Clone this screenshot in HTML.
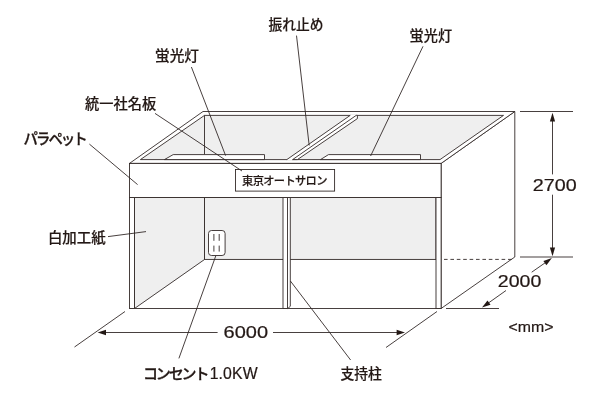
<!DOCTYPE html>
<html lang="ja">
<head>
<meta charset="utf-8">
<title>ブース図</title>
<style>
html,body{margin:0;padding:0;background:#fff;}
body{width:600px;height:400px;overflow:hidden;}
svg{display:block;will-change:transform;}
.l{stroke:#2f2624;stroke-width:.88;fill:none;}
.w{stroke:#2f2624;stroke-width:.88;fill:#fff;stroke-linejoin:miter;}
.g{stroke:#2f2624;stroke-width:.88;fill:#efefef;stroke-linejoin:miter;}
.a{fill:#231815;stroke:none;}
.jp{font-family:"Liberation Sans","Noto Sans CJK JP",sans-serif;font-weight:500;fill:#231815;stroke:#231815;stroke-width:.18;}
.k{stroke-width:.3;}
.n{font-family:"Liberation Sans",sans-serif;font-weight:400;fill:#231815;stroke:#231815;stroke-width:.2;}
</style>
</head>
<body>
<svg width="600" height="400" viewBox="0 0 600 400">
<rect x="0" y="0" width="600" height="400" fill="#fff"/>

<!-- right side wall -->
<polygon class="w" points="441.1,163.4 514.8,111.5 514.8,257 441.1,308.5"/>
<!-- top rim -->
<polygon class="w" points="129.5,163.4 203,111.5 514.8,111.5 441.1,163.4"/>
<!-- ceiling opening (inside) -->
<polygon class="g" points="140.4,159.6 204.5,115.4 503.5,115.4 440,159.6"/>
<line class="l" x1="204.5" y1="115.4" x2="204.5" y2="154.6"/>
<!-- sway brace -->
<polygon points="287.3,160.2 286.8,159.6 350.2,115.4 350.8,114.7 356,114.7 357.4,115.6 357.4,118.6 297.4,159.6 292.6,159.6 292.2,160.2" fill="#fff" stroke="none"/>
<path class="l" d="M286.8 159.6L350.2 115.4M292.6 159.6L356.2 115.4H357.4V118.6L297.4 159.6H292.6"/>
<!-- lamps -->
<polygon class="w" points="164.4,159.6 173.2,154.6 264.5,154.6 264.5,159.6"/>
<polygon class="w" points="320.5,159.6 328.5,154.6 420.5,154.6 420.5,159.6"/>

<!-- interior walls below parapet -->
<polygon class="g" points="134.5,197.5 204.5,197.5 204.5,259.5 134.5,308.5"/>
<rect class="g" x="204.5" y="197.5" width="231.5" height="61.9"/>
<!-- floor -->
<line class="l" x1="129.5" y1="308.5" x2="441.1" y2="308.5"/>
<!-- front posts -->
<rect class="w" x="129.5" y="197.5" width="5" height="111"/>
<rect class="w" x="436" y="197.5" width="5.1" height="111"/>
<!-- center post -->
<polygon class="w" points="283,197.5 290.3,197.5 290.3,306.3 287.8,308.5 283,308.5"/>
<line class="l" x1="287.5" y1="197.5" x2="287.5" y2="308.5"/>
<!-- parapet -->
<rect class="w" x="129.5" y="163.4" width="311.6" height="34.1"/>
<!-- dashed hidden line -->
<line class="l" x1="444" y1="259.4" x2="512" y2="259.4" stroke-dasharray="3.6 2.8"/>
<!-- nameplate -->
<rect class="w" x="235.5" y="169.5" width="99.1" height="21.6"/>
<text class="jp" font-size="11.6" letter-spacing="-0.66" transform="translate(242.07 185.01) scale(0.97 1)">東京オートサロン</text>
<!-- outlet -->
<rect class="w" x="208.5" y="230.5" width="16.6" height="25" rx="3" ry="3"/>
<path class="l" d="M213.9 234v6.8M219.2 234v6.8M213.9 245.6v6M219.2 245.6v6"/>

<!-- dimension 2700 -->
<line class="l" x1="520" y1="111.5" x2="573" y2="111.5"/>
<line class="l" x1="520" y1="257" x2="573" y2="257"/>
<line class="l" x1="552.5" y1="118" x2="552.5" y2="174.4"/>
<line class="l" x1="552.5" y1="194.7" x2="552.5" y2="250"/>
<polygon class="a" points="552.5,112.7 555.1,121.5 549.9,121.5"/>
<polygon class="a" points="552.5,256.3 555.1,247.6 549.9,247.6"/>
<text class="n" font-size="15.8" transform="translate(532.81 190.75) scale(1.248 1)">2700</text>

<!-- dimension 2000 -->
<line class="l" x1="446" y1="308.5" x2="499" y2="308.5"/>
<line class="l" x1="487" y1="304" x2="506" y2="290.5"/>
<line class="l" x1="531.7" y1="272.2" x2="547" y2="261.5"/>
<polygon class="a" points="482.0,307.6 490.5,304.7 487.5,300.5"/>
<polygon class="a" points="551.9,258.1 543.4,261.0 546.4,265.2"/>
<text class="n" font-size="15.8" transform="translate(497.82 286.55) scale(1.236 1)">2000</text>

<!-- dimension 6000 -->
<line class="l" x1="125" y1="311.5" x2="74.5" y2="347"/>
<line class="l" x1="437" y1="311.5" x2="386" y2="347.5"/>
<line class="l" x1="103" y1="332.5" x2="217.6" y2="332.5"/>
<line class="l" x1="273" y1="332.5" x2="400" y2="332.5"/>
<polygon class="a" points="97.6,332.5 106,329.8 106,335.2"/>
<polygon class="a" points="405,332.5 396.6,329.8 396.6,335.2"/>
<text class="n" font-size="15.8" transform="translate(223.60 337.75) scale(1.266 1)">6000</text>

<!-- leaders -->
<line class="l" x1="89.4" y1="144.1" x2="137.6" y2="184.6"/>
<line class="l" x1="108" y1="236.6" x2="146" y2="231.6"/>
<line class="l" x1="155" y1="113.4" x2="242" y2="171"/>
<line class="l" x1="191.4" y1="67" x2="225.6" y2="155.6"/>
<line class="l" x1="296.5" y1="35.6" x2="309.2" y2="145.5"/>
<line class="l" x1="423" y1="46.3" x2="370.6" y2="156"/>
<line class="l" x1="215.8" y1="255.8" x2="178.9" y2="358.4"/>
<line class="l" x1="290.4" y1="281" x2="350.6" y2="360"/>

<!-- labels -->
<text class="jp" font-size="14.4" transform="translate(268.59 29.97) scale(0.955 1)">振れ止め</text>
<text class="jp" font-size="14.4" transform="translate(154.97 60.75) scale(1.021 1)">蛍光灯</text>
<text class="jp" font-size="14.4" transform="translate(409.61 40.78) scale(0.983 1)">蛍光灯</text>
<text class="jp" font-size="14.4" transform="translate(85.12 108.72) scale(0.988 1)">統一社名板</text>
<text class="jp k" font-size="15.2" letter-spacing="-2.05" transform="translate(23.43 144.37) scale(0.95 1)">パラペット</text>
<text class="jp" font-size="14.4" transform="translate(47.88 243.07) scale(1.004 1)">白加工紙</text>
<text y="379.2"><tspan class="jp k" x="142.9" font-size="15" letter-spacing="-2.1">コンセント</tspan><tspan class="n" x="209.7" font-size="15.8" letter-spacing=".12">1.0KW</tspan></text>
<text class="jp" font-size="14.4" transform="translate(340.45 379.12) scale(0.96 1)">支持柱</text>
<text class="n" font-size="15.0" transform="translate(508.41 331.55) scale(1.06 1)">&lt;mm&gt;</text>
</svg>
</body>
</html>
